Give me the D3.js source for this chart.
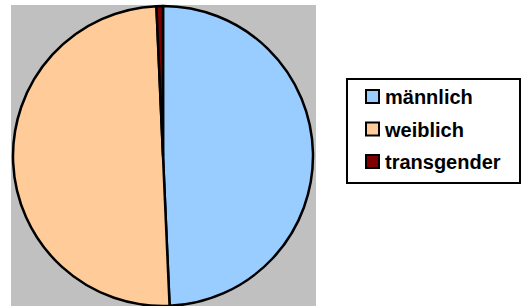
<!DOCTYPE html>
<html>
<head>
<meta charset="utf-8">
<script src="https://cdn.jsdelivr.net/npm/d3@7"></script>
<style>
  body { margin: 0; background: #fff; }
  svg { display: block; }
</style>
</head>
<body>
<svg width="521" height="306"></svg>
<script>
const categories = ['männlich', 'weiblich', 'transgender'];
const values = [49.3, 50.0, 0.7];
const colors = ['#99ccff', '#ffcc99', '#800000'];

const svg = d3.select('svg');

// grey plot area behind the pie
svg.append('rect')
    .attr('x', 11).attr('y', 5)
    .attr('width', 305).attr('height', 301)
    .attr('fill', '#c0c0c0');

const color = d3.scaleOrdinal().domain(categories).range(colors);

const pie = d3.pie().sort(null).value(d => d.value);
const arc = d3.arc().innerRadius(0).outerRadius(150);

const data = categories.map((c, i) => ({name: c, value: values[i]}));

const g = svg.append('g').attr('transform', 'translate(163,156)');

g.selectAll('.slice')
    .data(pie(data))
    .enter()
    .append('path')
    .classed('slice', true)
    .attr('d', arc)
    .attr('fill', d => color(d.data.name))
    .attr('stroke', '#000')
    .attr('stroke-width', 2.5)
    .attr('stroke-linejoin', 'round');

// legend
const legend = svg.append('g');

legend.append('rect')
    .attr('x', 347).attr('y', 79)
    .attr('width', 173).attr('height', 104)
    .attr('fill', '#fff')
    .attr('stroke', '#000')
    .attr('stroke-width', 2);

const rowY = d3.scalePoint().domain(categories).range([104, 169]);

const rows = legend.selectAll('.row')
    .data(data)
    .enter()
    .append('g')
    .classed('row', true)
    .attr('transform', d => `translate(0,${rowY(d.name)})`);

rows.append('rect')
    .attr('x', 366).attr('y', -14)
    .attr('width', 13).attr('height', 13)
    .attr('fill', d => color(d.name))
    .attr('stroke', '#000')
    .attr('stroke-width', 2);

rows.append('text')
    .attr('x', 385).attr('y', 0)
    .attr('font-family', 'Liberation Sans, Arial, sans-serif')
    .attr('font-weight', 'bold')
    .attr('font-size', 20)
    .attr('fill', '#000')
    .text(d => d.name);
</script>
</body>
</html>
